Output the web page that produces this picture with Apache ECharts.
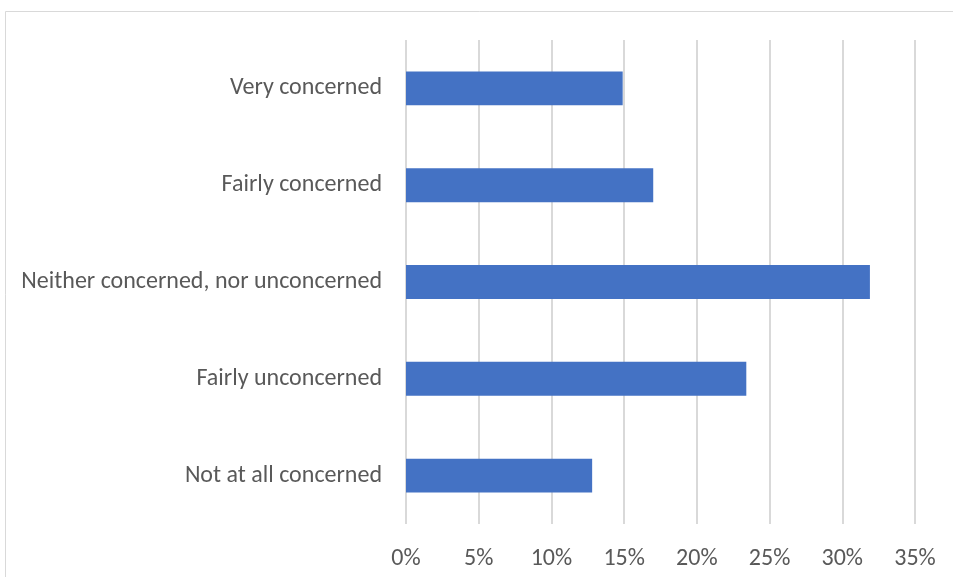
<!DOCTYPE html>
<html><head><meta charset="utf-8">
<script src="https://cdn.jsdelivr.net/npm/echarts@6/dist/echarts.min.js"></script>
<style>html,body{margin:0;padding:0;background:#fff}#c{width:953px;height:577px}</style>
</head><body><div id="c"></div>
<script>
const categories = ["Very concerned","Fairly concerned","Neither concerned, nor unconcerned","Fairly unconcerned","Not at all concerned"];
const values = [14.9, 17.0, 31.9, 23.4, 12.8];
const xTicks = [0,5,10,15,20,25,30,35];

const chart = echarts.init(document.getElementById('c'));
const font = "Carlito, Calibri, Lato, sans-serif";
chart.setOption({
  animation:false,
  backgroundColor:'#fff',
  graphic:[{type:'rect',shape:{x:5.5,y:11.5,width:960,height:600},style:{fill:'none',stroke:'#d9d9d9',lineWidth:1}}],
  grid:{left:406,right:38,top:40,bottom:53},
  xAxis:{type:'value',min:xTicks[0],max:xTicks[xTicks.length-1],interval:5,
    axisLine:{show:false},axisTick:{show:false},
    axisLabel:{formatter:v=>v+'%',color:'#595959',fontSize:24,fontFamily:font,margin:23},
    splitLine:{lineStyle:{color:'#d9d9d9',width:2}}},
  yAxis:{type:'category',data:categories,inverse:true,
    axisLine:{show:false},axisTick:{show:false},
    axisLabel:{color:'#595959',fontSize:24,fontFamily:font,margin:24,padding:[5,0,0,0]}},
  series:[{type:'bar',data:values,barCategoryGap:'65%',itemStyle:{color:'#4472c4'}}]
});
</script></body></html>
